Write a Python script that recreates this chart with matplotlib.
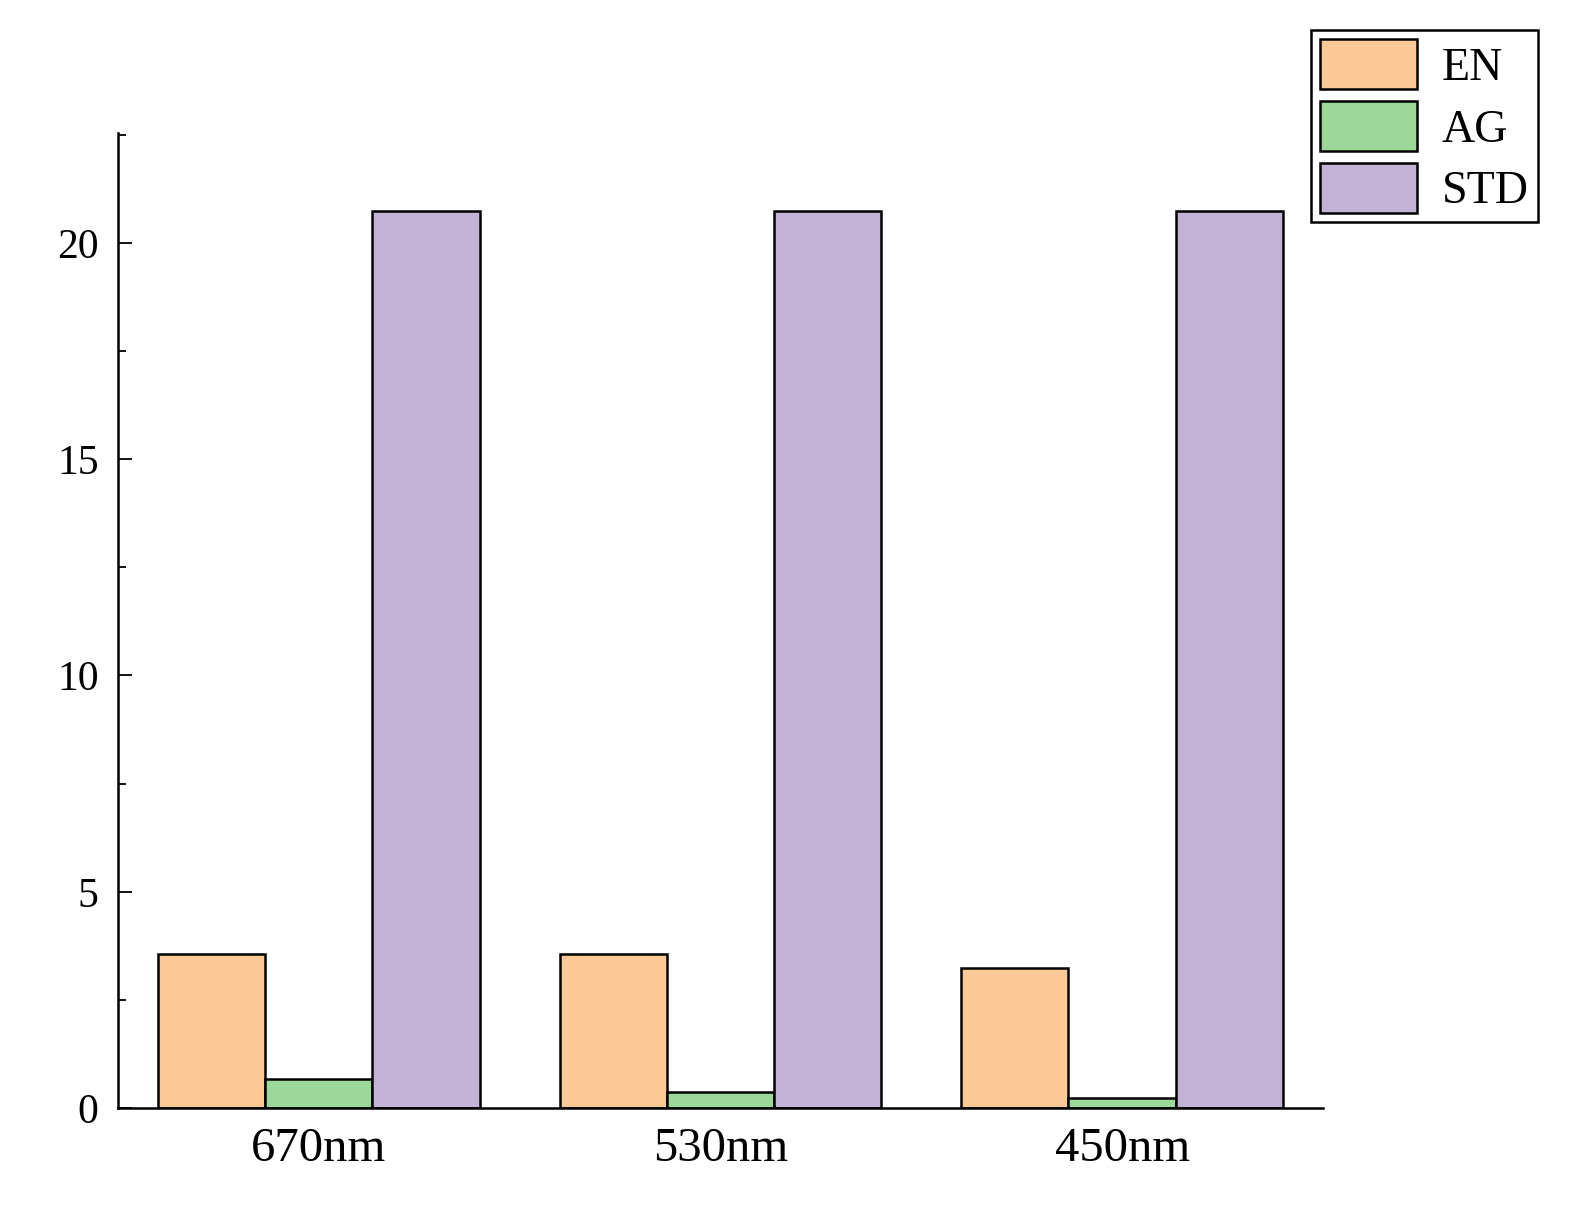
import numpy as np
import matplotlib
matplotlib.use("Agg")
import matplotlib.pyplot as plt
from matplotlib.ticker import MultipleLocator

plt.rcParams['font.family'] = ['Liberation Serif', 'DejaVu Serif']

categories = ['670nm', '530nm', '450nm']
en = [3.56, 3.56, 3.24]
ag = [0.67, 0.37, 0.23]
std = [20.74, 20.74, 20.74]

fig = plt.figure(figsize=(15.71, 12.09), dpi=100)
ax = fig.add_axes([0.0751, 0.0835, 0.767, 0.8065])

x = np.arange(len(categories))
w = 0.267
ax.bar(x - w, en, w, color='#fbc896', edgecolor='black', linewidth=1.8, label='EN')
ax.bar(x, ag, w, color='#9dd89b', edgecolor='black', linewidth=1.8, label='AG')
ax.bar(x + w, std, w, color='#c2b2d6', edgecolor='black', linewidth=1.8, label='STD')

ax.set_xlim(-0.5, 2.5)
ax.set_ylim(0, 22.54)
ax.set_xticks(x)
ax.set_xticklabels(categories, fontsize=35)
ax.tick_params(axis='x', length=0, pad=14)
ax.yaxis.set_major_locator(MultipleLocator(5))
ax.yaxis.set_minor_locator(MultipleLocator(2.5))
ax.tick_params(axis='y', which='major', direction='in', length=10, width=1.3, labelsize=30, pad=14)
ax.tick_params(axis='y', which='minor', direction='in', length=6, width=1.3)
for s in ['top', 'right']:
    ax.spines[s].set_visible(False)
for s in ['left', 'bottom']:
    ax.spines[s].set_linewidth(1.8)

leg = fig.legend(loc='upper right', bbox_to_anchor=(0.979, 0.975), fontsize=33,
                 fancybox=False, edgecolor='black', framealpha=1,
                 handlelength=2.1, handleheight=1.3, labelspacing=0.25,
                 borderpad=0.2, handletextpad=0.55, borderaxespad=0)
leg.get_frame().set_linewidth(1.8)

fig.savefig('out.png', dpi=100)
